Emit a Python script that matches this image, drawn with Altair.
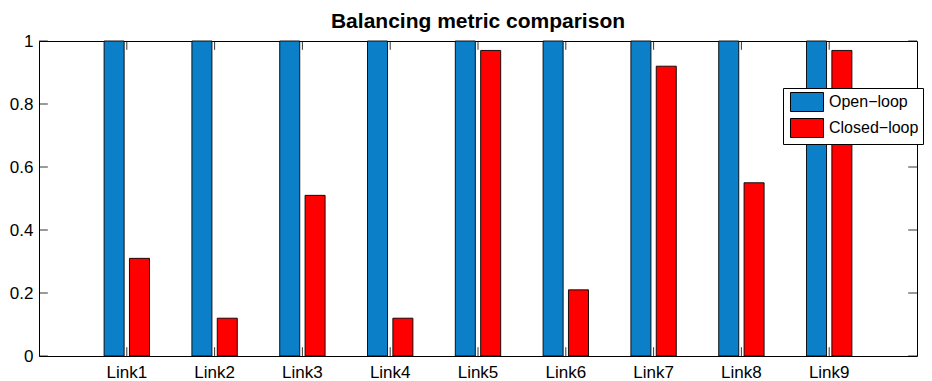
import altair as alt
import pandas as pd

links = ["Link1", "Link2", "Link3", "Link4", "Link5", "Link6", "Link7", "Link8", "Link9"]
series = ["Open\u2212loop", "Closed\u2212loop"]
open_loop = [1, 1, 1, 1, 1, 1, 1, 1, 1]
closed_loop = [0.31, 0.12, 0.51, 0.12, 0.97, 0.21, 0.92, 0.55, 0.97]
yticks = [0, 0.2, 0.4, 0.6, 0.8, 1]
colors = ["#0B80C8", "#FF0000"]

rows = []
for i, l in enumerate(links):
    rows.append({"link": l, "series": series[0], "value": open_loop[i]})
    rows.append({"link": l, "series": series[1], "value": closed_loop[i]})
df = pd.DataFrame(rows)
ydf = pd.DataFrame({"value": yticks})
xdf = pd.DataFrame({"link": links})

W, H = 878, 315
TL = 8.8
FONT = "Liberation Sans"

xscale = alt.Scale(paddingInner=0.483, paddingOuter=0.7415)
yscale = alt.Scale(domain=[0, 1], nice=False)
xaxis = alt.Axis(title=None, labelAngle=0, ticks=False, domain=False, labelPadding=8,
                 labelFontSize=17, labelFont=FONT, labelColor="black")
yaxis = alt.Axis(title=None, values=yticks, format="~g", ticks=False, domain=False, grid=False,
                 labelPadding=6, labelFontSize=17, labelFont=FONT, labelColor="black")

bars = alt.Chart(df).mark_bar(stroke="black", strokeWidth=0.9).encode(
    x=alt.X("link:N", sort=links, scale=xscale, axis=xaxis),
    xOffset=alt.XOffset("series:N", sort=series, scale=alt.Scale(paddingInner=0.21, paddingOuter=0)),
    y=alt.Y("value:Q", scale=yscale, axis=yaxis),
    color=alt.Color("series:N", sort=series,
                    scale=alt.Scale(domain=series, range=colors),
                    legend=alt.Legend(
                        title=None, orient="none", legendX=744, legendY=47,
                        fillColor="white", strokeColor="black", padding=4,
                        symbolType="M-1.74,-1L1.74,-1L1.74,1L-1.74,1Z",
                        symbolSize=361, symbolOffset=10, symbolStrokeColor="black",
                        symbolStrokeWidth=1, symbolOpacity=1,
                        labelOffset=12, labelFontSize=16, labelFont=FONT, labelColor="black",
                        rowPadding=2)),
)

left_ticks = alt.Chart(ydf).mark_rule(color="black", strokeWidth=0.8).encode(
    y=alt.Y("value:Q", scale=yscale, axis=yaxis), x=alt.value(0), x2=alt.value(TL))
right_ticks = alt.Chart(ydf).mark_rule(color="black", strokeWidth=0.8).encode(
    y=alt.Y("value:Q", scale=yscale, axis=yaxis), x=alt.value(W - TL), x2=alt.value(W))
bottom_ticks = alt.Chart(xdf).mark_rule(color="black", strokeWidth=0.8).encode(
    x=alt.X("link:N", sort=links, scale=xscale, axis=xaxis), y=alt.value(H), y2=alt.value(H - TL))
top_ticks = alt.Chart(xdf).mark_rule(color="black", strokeWidth=0.8).encode(
    x=alt.X("link:N", sort=links, scale=xscale, axis=xaxis), y=alt.value(0), y2=alt.value(TL))

chart = alt.layer(bars, left_ticks, right_ticks, bottom_ticks, top_ticks).properties(
    width=W, height=H,
    title=alt.TitleParams("Balancing metric comparison", fontSize=21, fontWeight="bold",
                          font=FONT, color="black", anchor="middle", frame="group",
                          offset=0),
    autosize=alt.AutoSizeParams(type="none"),
    padding={"left": 31, "top": 33, "right": 7, "bottom": 25},
).configure_view(stroke="black", strokeWidth=1)

chart.save("out.html", embed_options={"renderer": "svg", "actions": False})
